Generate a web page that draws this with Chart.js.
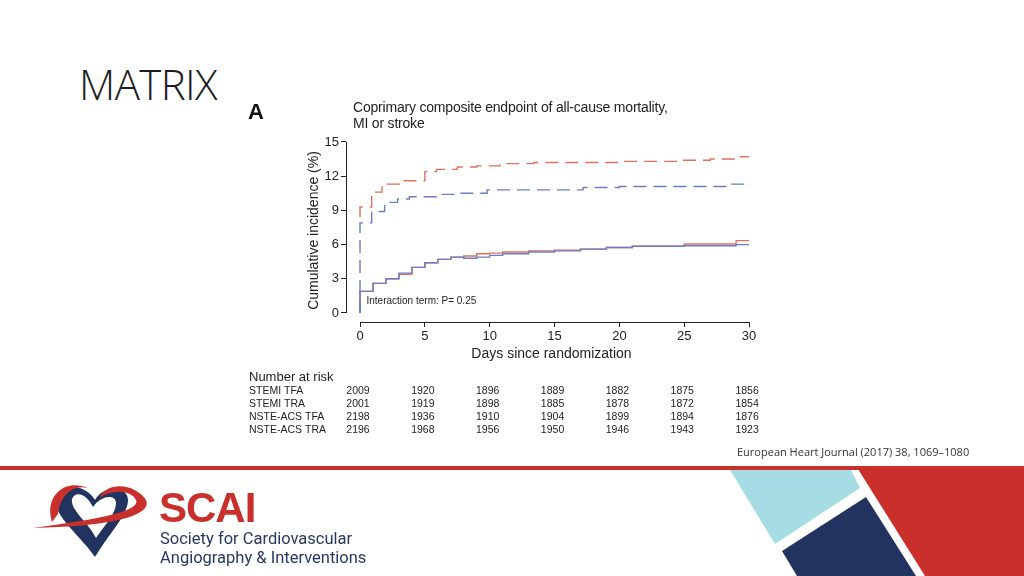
<!DOCTYPE html>
<html>
<head>
<meta charset="utf-8">
<script src="https://cdn.jsdelivr.net/npm/chart.js@4.4.0/dist/chart.umd.min.js"></script>
<style>
  body { margin: 0; width: 1024px; height: 576px; position: relative; overflow: hidden; background: #fff; font-family: "Liberation Sans", Arial, sans-serif; }
  #slideTitle { position: absolute; left: 79px; top: 55px; font-family: "Open Sans", sans-serif; font-weight: 300; font-size: 42px; letter-spacing: -0.6px; color: #1e1e1e; }
  #fig { position: absolute; left: 240px; top: 85px; width: 530px; height: 370px; }
  #fig canvas { position: absolute; left: 0; top: 0; }
  #panel { position: absolute; left: 8px; top: 14px; font-size: 22px; font-weight: bold; color: #111; }
  #figTitle { position: absolute; left: 113px; top: 14px; font-size: 14px; line-height: 16px; color: #222; letter-spacing: -0.2px; }
  #cite { position: absolute; left: 737px; top: 444px; font-family: "Open Sans", sans-serif; font-size: 11px; color: #333; }
  #rule { position: absolute; left: 0; top: 466px; width: 1024px; height: 4px; background: #c9302c; }
  #deco { position: absolute; left: 0; top: 0; }
  #scai { position: absolute; left: 159px; top: 484px; font-weight: bold; font-size: 42px; letter-spacing: -1px; color: #c9302c; }
  #society { position: absolute; left: 160px; top: 529px; font-family: "Liberation Sans Narrow", "Roboto", sans-serif; font-size: 16.5px; line-height: 19px; color: #253763; }
</style>
</head>
<body>
<div id="slideTitle">MATRIX</div>

<div id="fig">
  <canvas id="km" width="530" height="370"></canvas>
  <div id="panel">A</div>
  <div id="figTitle">Coprimary composite endpoint of all-cause mortality,<br>MI or stroke</div>
</div>

<div id="cite">European Heart Journal (2017) 38, 1069–1080</div>
<div id="rule"></div>

<svg id="deco" width="1024" height="576">
  <polygon points="730,470 851,470 860,488 775,544" fill="#a6dce4"/>
  <polygon points="866,497 916,576 797,576 782,551" fill="#22335f"/>
  <polygon points="858,469 1024,469 1024,576 925,576" fill="#c9302c"/>
  <path d="M95,557 C80,535 52,515 56,498 C60,484 84,482 95,500 C104,484 128,486 128,500 C128,515 108,535 95,557 Z" fill="#22335f"/>
  <path d="M96,538 C88,522 70,510 72,499 C75,491 86,493 93,507 C101,495 116,494 116,503 C116,514 104,526 96,538 Z" fill="#fff"/>
  <path d="M52,522 C44,497 64,478 88,488 C74,484 60,494 58,514 Z" fill="#c9302c"/>
  <path d="M99,498 C108,480 136,484 146,500 C152,514 120,526 33,528 C100,519 141,511 136,500 C131,490 112,489 99,498 Z" fill="#c9302c"/>
</svg>
<div id="scai">SCAI</div>
<div id="society">Society for Cardiovascular<br>Angiography &amp; Interventions</div>

<script>
// tick labels
var xTicks = [0, 5, 10, 15, 20, 25, 30];
var yTicks = [0, 3, 6, 9, 12, 15];

// Kaplan-Meier steps (day, cumulative incidence %)
var stemiTfaDays = [0, 0, 0.9, 1.7, 2.1, 3.1, 5, 5.9, 7.5, 9, 10.8, 13.4, 20, 24.4, 27, 29, 30];
var stemiTfaVals = [8.4, 9.3, 10.6, 11.2, 11.3, 11.6, 12.4, 12.6, 12.8, 12.9, 13.1, 13.2, 13.3, 13.4, 13.5, 13.7, 13.7];

var stemiTraDays = [0, 0, 0.9, 1.9, 2.9, 3.8, 5.9, 7.5, 9.8, 17.2, 20, 28.5, 30];
var stemiTraVals = [0, 7.9, 8.9, 9.7, 10.0, 10.2, 10.4, 10.5, 10.8, 11.0, 11.1, 11.3, 11.3];

var nsteTfaDays = [0, 0, 1, 2, 3, 4, 5, 6, 7, 8, 9, 10, 11, 13, 15, 17, 19, 21, 25, 29, 30];
var nsteTfaVals = [0, 1.9, 2.6, 3.0, 3.4, 4.0, 4.4, 4.7, 4.9, 5.0, 5.2, 5.25, 5.35, 5.45, 5.5, 5.6, 5.75, 5.85, 6.05, 6.35, 6.35];

var nsteTraDays = [0, 0, 1, 2, 3, 4, 5, 6, 7, 8, 9, 10, 11, 13, 15, 17, 19, 21, 25, 29, 30];
var nsteTraVals = [0, 1.9, 2.6, 3.0, 3.5, 4.0, 4.4, 4.7, 4.9, 4.8, 4.9, 5.05, 5.2, 5.35, 5.45, 5.6, 5.75, 5.85, 5.9, 6.0, 6.0];

// number at risk table
var riskDays = [0, 5, 10, 15, 20, 25, 30];
var riskLabels = ['STEMI TFA', 'STEMI TRA', 'NSTE-ACS TFA', 'NSTE-ACS TRA'];
var riskStemiTfa = [2009, 1920, 1896, 1889, 1882, 1875, 1856];
var riskStemiTra = [2001, 1919, 1898, 1885, 1878, 1872, 1854];
var riskNsteTfa = [2198, 1936, 1910, 1904, 1899, 1894, 1876];
var riskNsteTra = [2196, 1968, 1956, 1950, 1946, 1943, 1923];

var interactionNote = 'Interaction term: P= 0.25';

var red = '#e2705f';
var blue = '#6c7cc6';

function toPoints(days, vals) {
  return days.map(function (d, i) { return { x: d, y: vals[i] }; });
}

const riskTable = {
  id: 'riskTable',
  afterDraw(chart) {
    const ctx = chart.ctx;
    const x = chart.scales.x;
    const y = chart.scales.y;
    const area = chart.chartArea;
    ctx.save();
    // bracket style axes
    ctx.strokeStyle = '#222';
    ctx.lineWidth = 1;
    ctx.beginPath();
    ctx.moveTo(area.left + 0.5, y.getPixelForValue(15));
    ctx.lineTo(area.left + 0.5, y.getPixelForValue(0));
    ctx.moveTo(x.getPixelForValue(0), area.bottom + 0.5);
    ctx.lineTo(x.getPixelForValue(30), area.bottom + 0.5);
    ctx.stroke();

    ctx.fillStyle = '#222';
    ctx.textBaseline = 'middle';
    ctx.font = '10px "Liberation Sans", Arial';
    ctx.fillText(interactionNote, x.getPixelForValue(0.5), y.getPixelForValue(1.0));

    // number at risk
    ctx.font = '13px "Liberation Sans", Arial';
    ctx.fillText('Number at risk', 9, 292);
    var rows = [riskStemiTfa, riskStemiTra, riskNsteTfa, riskNsteTra];
    ctx.font = '10.5px "Liberation Sans", Arial';
    rows.forEach(function (row, r) {
      var rowY = 306 + r * 13;
      ctx.textAlign = 'left';
      ctx.fillText(riskLabels[r], 9, rowY);
      ctx.textAlign = 'center';
      row.forEach(function (n, i) {
        ctx.fillText(String(n), x.getPixelForValue(riskDays[i]) - 2, rowY);
      });
    });
    ctx.restore();
  }
};

const config = {
  type: 'line',
  data: {
    datasets: [
      { label: 'STEMI TFA', data: toPoints(stemiTfaDays, stemiTfaVals), borderColor: red, borderDash: [13, 7], borderWidth: 1.4, order: 2 },
      { label: 'STEMI TRA', data: toPoints(stemiTraDays, stemiTraVals), borderColor: blue, borderDash: [13, 7], borderWidth: 1.4, order: 1 },
      { label: 'NSTE-ACS TFA', data: toPoints(nsteTfaDays, nsteTfaVals), borderColor: red, borderWidth: 1.4, order: 2 },
      { label: 'NSTE-ACS TRA', data: toPoints(nsteTraDays, nsteTraVals), borderColor: blue, borderWidth: 1.4, order: 1 }
    ]
  },
  options: {
    responsive: false,
    animation: false,
    events: [],
    elements: { line: { stepped: 'before', fill: false }, point: { radius: 0 } },
    layout: { padding: { left: 66, top: 54, right: 13, bottom: 88 } },
    plugins: { legend: { display: false }, tooltip: { enabled: false } },
    scales: {
      x: {
        type: 'linear',
        min: -1.08,
        max: 30.61,
        afterBuildTicks: function (scale) { scale.ticks = xTicks.map(function (v) { return { value: v }; }); },
        afterFit: function (scale) { scale.height = 45; },
        border: { display: false },
        grid: { drawOnChartArea: false, drawTicks: true, tickLength: 5, color: '#222' },
        ticks: { autoSkip: false, maxRotation: 0, padding: 2, color: '#222', font: { family: 'Liberation Sans', size: 13 } },
        title: { display: true, text: 'Days since randomization', color: '#222', padding: { top: 3 }, font: { family: 'Liberation Sans', size: 14 } }
      },
      y: {
        min: -0.79,
        max: 15.26,
        afterBuildTicks: function (scale) { scale.ticks = yTicks.map(function (v) { return { value: v }; }); },
        afterFit: function (scale) { scale.width = 40; },
        border: { display: false },
        grid: { drawOnChartArea: false, drawTicks: true, tickLength: 5, color: '#222' },
        ticks: { padding: 2, color: '#222', font: { family: 'Liberation Sans', size: 13 } },
        title: { display: true, text: 'Cumulative incidence (%)', color: '#222', padding: 0, font: { family: 'Liberation Sans', size: 14 } }
      }
    }
  },
  plugins: [riskTable]
};

var kmChart = new Chart(document.getElementById('km'), config);
</script>
</body>
</html>
